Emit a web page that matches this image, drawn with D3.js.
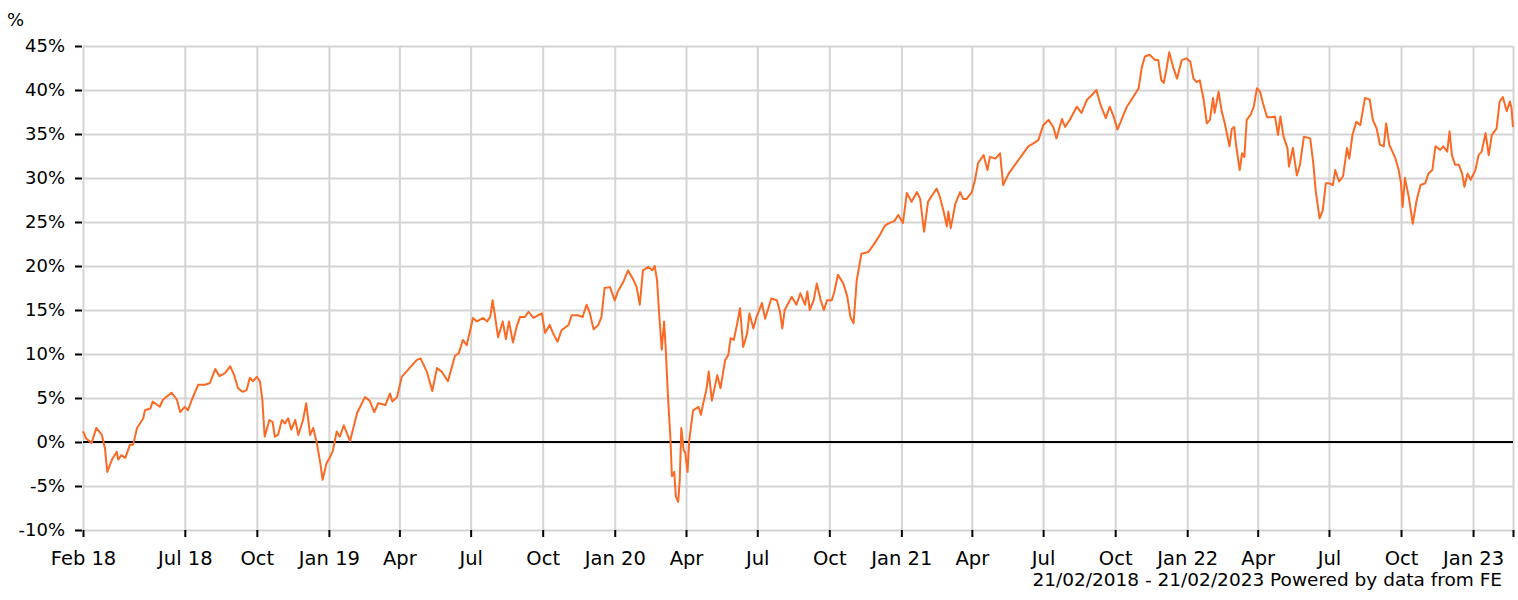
<!DOCTYPE html>
<html>
<head>
<meta charset="utf-8">
<script src="https://cdn.jsdelivr.net/npm/d3@7"></script>
<style>
  body { margin: 0; background: #fff; }
  svg { display: block; font-family: "DejaVu Sans", Verdana, sans-serif; }
</style>
</head>
<body>
<svg id="chart" width="1518" height="600"></svg>
<script>
// Performance series: days since 21/02/2018 and cumulative % return
const startDate = new Date(2018, 1, 21);
const endDate = new Date(2023, 1, 21);

const dayOffsets = [
  0, 4, 11, 17, 24, 28, 31, 37, 43, 45, 49, 54, 60, 64, 69, 77, 79, 86, 89, 98,
  102, 113, 120, 124, 130, 134, 139, 147, 156, 162, 169, 174, 181, 188, 193, 198, 204, 209, 213, 217,
  222, 226, 229, 232, 238, 242, 245, 249, 254, 258, 262, 266, 271, 275, 281, 285, 290, 294, 299, 303,
  306, 311, 315, 319, 324, 328, 333, 341, 350, 360, 366, 372, 377, 386, 392, 395, 401, 407, 413, 426,
  431, 439, 446, 452, 458, 466, 475, 480, 485, 490, 498, 503, 511, 516, 520, 523, 526, 530, 536, 540,
  544, 549, 554, 558, 564, 569, 575, 581, 586, 590, 596, 600, 606, 611, 620, 624, 632, 638, 643, 647,
  652, 658, 662, 666, 673, 679, 683, 690, 696, 703, 707, 711, 715, 722, 727, 730, 733, 736, 739, 742,
  744, 747, 750, 752, 755, 757, 760, 762, 764, 767, 769, 772, 774, 779, 786, 789, 792, 796, 799, 803,
  810, 814, 820, 824, 827, 831, 835, 839, 843, 848, 851, 856, 860, 867, 871, 879, 886, 890, 893, 896,
  905, 911, 916, 922, 925, 928, 933, 937, 942, 946, 950, 956, 959, 964, 971, 976, 980, 984, 988, 994,
  1003, 1011, 1018, 1024, 1030, 1036, 1041, 1047, 1052, 1058, 1065, 1069, 1074, 1079, 1084, 1090, 1094, 1099, 1103, 1105,
  1108, 1114, 1120, 1124, 1128, 1135, 1139, 1143, 1150, 1155, 1158, 1165, 1171, 1175, 1182, 1190, 1199, 1207, 1213, 1220,
  1226, 1233, 1239, 1243, 1250, 1254, 1260, 1269, 1275, 1282, 1288, 1294, 1299, 1306, 1311, 1316, 1321, 1326, 1333, 1341,
  1348, 1352, 1356, 1362, 1369, 1373, 1377, 1380, 1384, 1387, 1392, 1397, 1403, 1409, 1414, 1418, 1422, 1426, 1431, 1435,
  1439, 1443, 1445, 1450, 1454, 1458, 1464, 1467, 1470, 1472, 1477, 1480, 1483, 1486, 1491, 1495, 1499, 1503, 1507, 1512,
  1518, 1522, 1526, 1529, 1533, 1538, 1540, 1545, 1550, 1554, 1559, 1567, 1571, 1574, 1579, 1583, 1587, 1591, 1596, 1599,
  1604, 1609, 1614, 1617, 1621, 1626, 1631, 1637, 1643, 1647, 1652, 1656, 1661, 1664, 1668, 1676, 1680, 1683, 1685, 1688,
  1693, 1698, 1703, 1708, 1714, 1718, 1723, 1727, 1733, 1737, 1742, 1745, 1748, 1752, 1757, 1761, 1764, 1768, 1772, 1778,
  1782, 1786, 1791, 1795, 1799, 1805, 1809, 1813, 1818, 1822, 1824, 1826
];

const returns = [
  1.2, 0.4, -0.1, 1.6, 0.8, -0.7, -3.4, -2.0, -1.1, -2.0, -1.5, -1.8, -0.3, -0.3, 1.6, 2.7, 3.6, 3.8, 4.6, 4.0,
  4.8, 5.6, 4.8, 3.4, 4.0, 3.6, 4.8, 6.5, 6.5, 6.7, 8.3, 7.5, 7.8, 8.6, 7.6, 6.1, 5.7, 5.9, 7.3, 6.9,
  7.4, 6.9, 4.8, 0.6, 2.5, 2.3, 0.6, 0.8, 2.5, 2.1, 2.7, 1.4, 2.5, 0.8, 2.5, 4.4, 0.8, 1.6, -0.3, -2.4,
  -4.3, -2.4, -1.8, -1.0, 1.2, 0.6, 1.9, 0.1, 3.3, 5.1, 4.7, 3.4, 4.4, 4.2, 5.5, 4.6, 5.1, 7.4, 8.0, 9.3,
  9.5, 8.0, 5.8, 8.4, 8.0, 6.9, 9.8, 10.1, 11.6, 11.0, 14.1, 13.7, 14.1, 13.7, 14.2, 16.1, 14.4, 11.9, 13.7, 11.7,
  13.7, 11.3, 13.2, 14.2, 14.2, 14.8, 14.1, 14.4, 14.6, 12.4, 13.3, 12.4, 11.4, 12.7, 13.3, 14.4, 14.4, 14.2, 15.6, 14.7,
  12.8, 13.3, 14.2, 17.5, 17.6, 16.1, 17.1, 18.2, 19.5, 18.4, 17.6, 15.6, 19.5, 19.9, 19.5, 20.0, 18.4, 14.2, 10.5, 13.7,
  10.8, 5.1, 0.6, -3.9, -3.4, -6.2, -6.8, -4.3, 1.6, -0.9, -1.2, -3.4, 0.1, 3.6, 4.0, 3.1, 4.4, 5.9, 8.0, 4.7,
  7.6, 6.1, 9.3, 9.9, 11.8, 11.6, 13.3, 15.2, 10.8, 12.3, 14.6, 12.9, 14.2, 15.8, 14.0, 16.3, 16.1, 14.8, 12.9, 15.0,
  16.5, 15.6, 16.9, 15.6, 17.1, 15.0, 16.1, 18.0, 16.1, 15.0, 16.1, 16.1, 16.9, 19.0, 18.0, 16.5, 14.2, 13.5, 18.4, 21.4,
  21.6, 22.6, 23.6, 24.6, 24.9, 25.1, 25.8, 24.9, 28.3, 27.3, 28.4, 27.6, 23.9, 27.3, 28.0, 28.8, 27.9, 26.2, 24.5, 26.2,
  24.3, 27.1, 28.4, 27.6, 27.6, 28.4, 29.8, 31.7, 32.6, 30.9, 32.4, 32.2, 32.8, 29.2, 30.5, 31.5, 32.6, 33.6, 33.9, 34.3,
  36.0, 36.6, 35.8, 34.5, 36.7, 35.8, 36.6, 38.1, 37.4, 38.9, 39.4, 40.0, 38.4, 36.8, 38.1, 37.0, 35.5, 36.6, 38.1, 39.2,
  40.2, 42.6, 43.8, 44.0, 43.4, 43.4, 41.1, 40.8, 42.6, 44.3, 42.6, 41.3, 43.4, 43.6, 43.2, 41.3, 40.9, 41.1, 38.9, 36.2,
  36.6, 39.1, 37.4, 39.8, 37.6, 36.2, 33.6, 35.6, 35.8, 34.0, 30.9, 32.8, 32.4, 36.6, 37.2, 38.1, 40.2, 39.8, 38.4, 36.9,
  36.9, 37.0, 34.9, 37.0, 34.7, 33.4, 31.3, 33.4, 30.3, 31.5, 34.7, 34.5, 31.7, 28.6, 25.4, 26.3, 29.4, 29.4, 29.2, 30.9,
  29.6, 30.2, 33.4, 32.2, 34.9, 36.4, 36.0, 39.1, 38.9, 36.6, 35.6, 33.8, 33.6, 36.2, 33.8, 32.2, 30.9, 29.4, 26.7, 30.0,
  27.8, 24.8, 27.5, 29.2, 29.4, 30.5, 30.9, 33.6, 33.2, 33.6, 33.0, 35.3, 32.6, 31.5, 31.5, 30.5, 29.0, 30.5, 29.8, 30.9,
  32.6, 33.0, 35.1, 32.6, 34.9, 35.6, 38.7, 39.2, 37.6, 38.7, 38.0, 35.8
];

// Axis ticks
const tickDates = [
  "2018-02-21", "2018-07-01", "2018-10-01", "2019-01-01", "2019-04-01", "2019-07-01", "2019-10-01",
  "2020-01-01", "2020-04-01", "2020-07-01", "2020-10-01", "2021-01-01", "2021-04-01", "2021-07-01",
  "2021-10-01", "2022-01-01", "2022-04-01", "2022-07-01", "2022-10-01", "2023-01-01", "2023-02-21"
];
const tickLabels = [
  "Feb 18", "Jul 18", "Oct", "Jan 19", "Apr", "Jul", "Oct",
  "Jan 20", "Apr", "Jul", "Oct", "Jan 21", "Apr", "Jul",
  "Oct", "Jan 22", "Apr", "Jul", "Oct", "Jan 23", ""
];
const yTicks = [-10, -5, 0, 5, 10, 15, 20, 25, 30, 35, 40, 45];

const parseDate = d3.timeParse("%Y-%m-%d");
const data = dayOffsets.map((d, i) => ({
  date: d3.timeDay.offset(startDate, d),
  value: returns[i]
}));

// Chart dimensions
const marginLeft = 83;
const marginRight = 5;
const marginTop = 46;
const marginBottom = 70;
const width = 1518;
const height = 600;

const x = d3.scaleTime()
  .domain([startDate, endDate])
  .range([marginLeft, width - marginRight]);

const y = d3.scaleLinear()
  .domain([-10, 45])
  .range([height - marginBottom, marginTop]);

const svg = d3.select("#chart");
const tickDateObjs = tickDates.map(parseDate);

// Grid
svg.append("g")
  .attr("transform", `translate(0,${height - marginBottom})`)
  .call(d3.axisBottom(x).tickValues(tickDateObjs).tickFormat("").tickSize(-(height - marginBottom - marginTop)))
  .call(g => g.select(".domain").remove())
  .call(g => g.selectAll("line").attr("stroke", "#d4d4d4").attr("stroke-width", 2));

svg.append("g")
  .attr("transform", `translate(${marginLeft},0)`)
  .call(d3.axisLeft(y).tickValues(yTicks).tickFormat("").tickSize(-(width - marginLeft - marginRight)))
  .call(g => g.select(".domain").remove())
  .call(g => g.selectAll("line").attr("stroke", "#d4d4d4").attr("stroke-width", 2));

// Axes
svg.append("g")
  .attr("transform", `translate(0,${height - marginBottom})`)
  .call(d3.axisBottom(x).tickValues(tickDateObjs).tickFormat((d, i) => tickLabels[i]).tickSize(7).tickPadding(14))
  .call(g => g.select(".domain").remove())
  .call(g => g.selectAll("line").attr("stroke", "#000").attr("stroke-width", 2))
  .call(g => g.selectAll("text").attr("fill", "#000").style("font-size", "19.5px").style("font-family", "DejaVu Sans"));

svg.append("g")
  .attr("transform", `translate(${marginLeft - 1},0)`)
  .call(d3.axisLeft(y).tickValues(yTicks).tickFormat(d => d + "%").tickSize(7).tickPadding(10))
  .call(g => g.select(".domain").remove())
  .call(g => g.selectAll("line").attr("stroke", "#000").attr("stroke-width", 2))
  .call(g => g.selectAll("text").attr("fill", "#000").style("font-size", "18px").style("font-family", "DejaVu Sans"));

// Zero line
svg.append("line")
  .attr("x1", marginLeft)
  .attr("x2", width - marginRight)
  .attr("y1", y(0))
  .attr("y2", y(0))
  .attr("stroke", "#000")
  .attr("stroke-width", 2);

// Series line
const line = d3.line()
  .x(d => x(d.date))
  .y(d => y(d.value));

svg.append("path")
  .datum(data)
  .attr("fill", "none")
  .attr("stroke", "#fb6a24")
  .attr("stroke-width", 2)
  .attr("stroke-linejoin", "round")
  .attr("d", line);

// Labels
svg.append("text")
  .attr("x", 7)
  .attr("y", 26)
  .style("font-size", "18px")
  .text("%");

svg.append("text")
  .attr("x", 1502)
  .attr("y", 586)
  .attr("text-anchor", "end")
  .style("font-size", "18.5px")
  .text("21/02/2018 - 21/02/2023 Powered by data from FE");
</script>
</body>
</html>
